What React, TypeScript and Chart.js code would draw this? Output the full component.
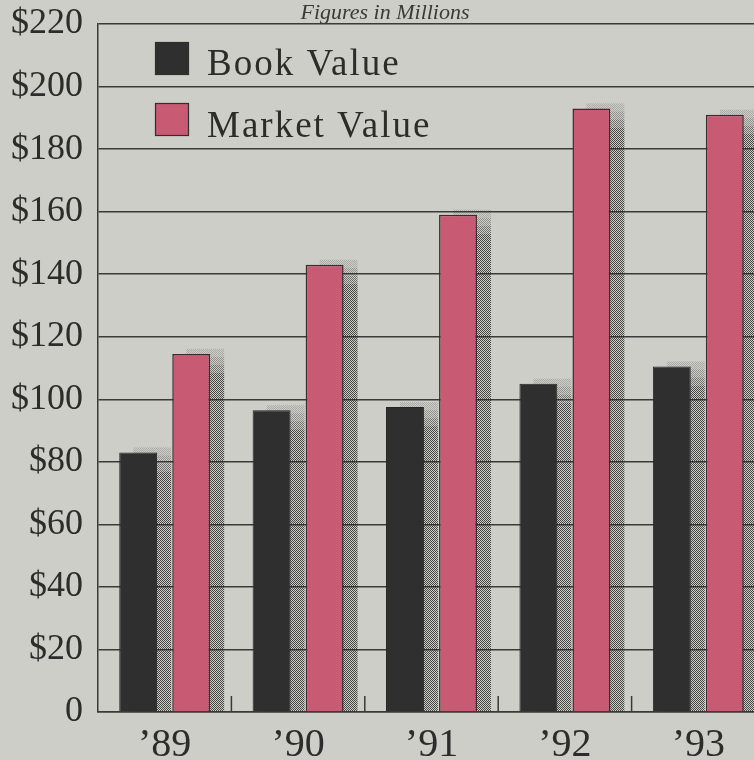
import React, { useEffect, useRef } from "react";
import { Chart, registerables } from "chart.js";
Chart.register(...registerables);

const categories = ["’89", "’90", "’91", "’92", "’93"];
const bookValue = [83, 96.5, 97.5, 105, 110.5];
const marketValue = [114.5, 143, 159, 193, 191];
const yTickLabels = ["0", "$20", "$40", "$60", "$80", "$100", "$120", "$140", "$160", "$180", "$200", "$220"];
const seriesLabels = ["Book Value", "Market Value"];
const chartTitle = "Figures in Millions";

const BG = "#cdcec8";
const INK = "#3a3a38";
const DARK = "#302f2f";
const PINK = "#c95a73";
const SERIF = "'Liberation Serif', 'Times New Roman', serif";

export default function App() {
  const ref = useRef<HTMLCanvasElement | null>(null);

  useEffect(() => {
    const canvas = ref.current;
    if (!canvas) return;

    const pc = document.createElement("canvas");
    pc.width = 2;
    pc.height = 2;
    const pctx = pc.getContext("2d")!;
    pctx.fillStyle = "rgba(45,45,45,0.85)";
    pctx.fillRect(0, 0, 1, 1);
    pctx.fillRect(1, 1, 1, 1);

    const bgPlugin = {
      id: "bg",
      beforeDraw(chart: any) {
        const c = chart.ctx;
        c.save();
        c.fillStyle = BG;
        c.fillRect(0, 0, chart.width, chart.height);
        c.restore();
      },
    };

    const shadowPlugin = {
      id: "shadow",
      beforeDatasetsDraw(chart: any) {
        const c = chart.ctx;
        const pattern = c.createPattern(pc, "repeat");
        c.save();
        c.fillStyle = pattern;
        const steps = [0.25, 0.45, 0.7];
        chart.data.datasets.forEach((_: any, di: number) => {
          const meta = chart.getDatasetMeta(di);
          meta.data.forEach((el: any) => {
            const dx = 14;
            const dy = -5;
            const left = el.x - el.width / 2 + dx;
            const top = el.y + dy;
            steps.forEach((a, k) => {
              c.globalAlpha = a;
              c.fillRect(left, top + k * 8, el.width, 8);
            });
            c.globalAlpha = 1;
            const t2 = top + steps.length * 8;
            c.fillRect(left, t2, el.width, el.base - t2);
          });
        });
        c.restore();
      },
    };

    const decoPlugin = {
      id: "deco",
      afterDraw(chart: any) {
        const c = chart.ctx;
        const area = chart.chartArea;
        const xs = chart.scales.x;
        c.save();
        // category boundary ticks
        c.strokeStyle = INK;
        c.lineWidth = 1.5;
        for (let i = 0; i < categories.length - 1; i++) {
          const x = (xs.getPixelForValue(i) + xs.getPixelForValue(i + 1)) / 2;
          c.beginPath();
          c.moveTo(x, area.bottom);
          c.lineTo(x, area.bottom - 16);
          c.stroke();
        }
        // legend
        c.font = `37px ${SERIF}`;
        (c as any).letterSpacing = "2px";
        c.textBaseline = "alphabetic";
        c.textAlign = "left";
        chart.data.datasets.forEach((ds: any, i: number) => {
          const bx = area.left + 57;
          const by = area.top + 18 + i * 61;
          c.fillStyle = ds.backgroundColor;
          c.fillRect(bx, by, 34, 33);
          c.strokeStyle = DARK;
          c.lineWidth = 1.2;
          c.strokeRect(bx + 0.5, by + 0.5, 33, 32);
          c.fillStyle = "#2c2c2b";
          c.fillText(ds.label, area.left + 109, area.top + 51 + i * 62);
        });
        // title
        (c as any).letterSpacing = "0px";
        c.font = `italic 22px ${SERIF}`;
        c.textAlign = "center";
        c.fillStyle = INK;
        c.fillText(chartTitle, 385, 19);
        c.restore();
      },
    };

    const chart = new Chart(canvas, {
      type: "bar",
      data: {
        labels: categories,
        datasets: [
          {
            label: seriesLabels[0],
            data: bookValue,
            backgroundColor: DARK,
            borderColor: "#262525",
            borderWidth: 1,
            categoryPercentage: 0.795,
            barPercentage: 0.715,
          },
          {
            label: seriesLabels[1],
            data: marketValue,
            backgroundColor: PINK,
            borderColor: "#3b2a2e",
            borderWidth: 1.5,
            categoryPercentage: 0.795,
            barPercentage: 0.715,
          },
        ],
      },
      options: {
        responsive: false,
        animation: false,
        devicePixelRatio: 1,
        layout: { padding: { left: 0, right: 15, top: 24, bottom: 0 } },
        plugins: {
          legend: { display: false },
          tooltip: { enabled: false },
          title: { display: false },
        },
        scales: {
          x: {
            grid: { display: false, drawTicks: false },
            border: { display: true, color: INK, width: 1.5 },
            ticks: {
              color: "#2c2c2b",
              font: { family: SERIF, size: 40 },
              padding: 9,
              maxRotation: 0,
              autoSkip: false,
            },
            afterFit(scale: any) {
              scale.height = 48;
              scale.paddingLeft = 0;
              scale.paddingRight = 0;
            },
          },
          y: {
            min: 0,
            max: 220,
            ticks: {
              stepSize: 20,
              color: "#2c2c2b",
              font: { family: SERIF, size: 36 },
              padding: 15,
              callback: (_v: any, i: number) => yTickLabels[i],
            },
            grid: { color: INK, lineWidth: 1.5, drawTicks: false },
            border: { display: true, color: INK, width: 1.5 },
            afterFit(scale: any) {
              scale.width = 98;
              scale.paddingTop = 0;
              scale.paddingBottom = 0;
            },
          },
        },
      },
      plugins: [bgPlugin, shadowPlugin, decoPlugin],
    });

    return () => chart.destroy();
  }, []);

  return (
    <div
      style={{
        position: "fixed",
        left: 0,
        top: 0,
        width: 754,
        height: 760,
        overflow: "hidden",
        background: BG,
      }}
    >
      <canvas ref={ref} width={780} height={760} style={{ width: 780, height: 760, display: "block" }} />
    </div>
  );
}
